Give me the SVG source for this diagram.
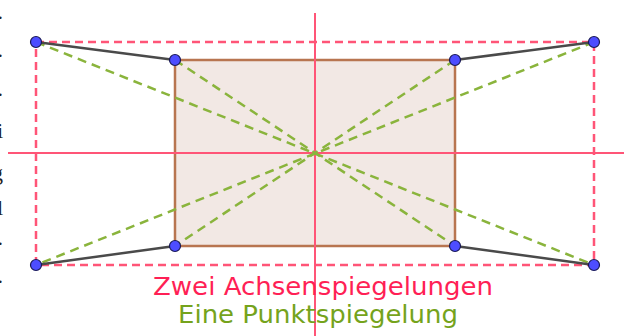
<svg xmlns="http://www.w3.org/2000/svg" width="624" height="336" viewBox="0 0 624 336">
<style>
.ax{stroke:#ff5577;stroke-width:2;fill:none}
.rd{stroke:#ff5577;stroke-width:2.5;stroke-dasharray:8 5;fill:none}
.gd{stroke:#8ab43c;stroke-width:2.5;stroke-dasharray:9 6;fill:none}
.bl{stroke:#4a4a4a;stroke-width:2.5;fill:none}
.pt{fill:#4d4dff;stroke:#1a1a55;stroke-width:1.2}
.cut{font-family:"Liberation Serif",serif;font-size:22px;fill:#222;text-anchor:end}
</style>
<rect width="624" height="336" fill="#fff"/>
<g id="cut-text">
<text class="cut" x="3" y="19">.</text>
<text class="cut" x="3" y="57">.</text>
<text class="cut" x="3" y="96">.</text>
<text class="cut" x="3" y="138">i</text>
<text class="cut" x="3" y="180">g</text>
<text class="cut" x="3" y="215">l</text>
<text class="cut" x="3" y="245">.</text>
<text class="cut" x="3" y="283">.</text>
</g>
<g id="rectangle">
<rect x="175" y="60" width="280" height="186" fill="#f2e8e4" stroke="#b87550" stroke-width="2.5"/>
</g>
<g id="connectors">
<rect class="rd" x="36" y="42" width="558" height="223"/>
<line class="ax" x1="315" y1="13" x2="315" y2="336"/>
<line class="ax" x1="8" y1="153" x2="624" y2="153"/>
<line class="gd" x1="36" y1="42" x2="594" y2="265"/>
<line class="gd" x1="594" y1="42" x2="36" y2="265"/>
<line class="gd" x1="175" y1="60" x2="455" y2="246"/>
<line class="gd" x1="455" y1="60" x2="175" y2="246"/>
<line class="bl" x1="36" y1="42" x2="175" y2="60"/>
<line class="bl" x1="455" y1="60" x2="594" y2="42"/>
<line class="bl" x1="36" y1="265" x2="175" y2="246"/>
<line class="bl" x1="455" y1="246" x2="594" y2="265"/>
</g>
<g id="points">
<circle class="pt" cx="36" cy="42" r="5.5"/>
<circle class="pt" cx="594" cy="42" r="5.5"/>
<circle class="pt" cx="36" cy="265" r="5.5"/>
<circle class="pt" cx="594" cy="265" r="5.5"/>
<circle class="pt" cx="175" cy="60" r="5.5"/>
<circle class="pt" cx="455" cy="60" r="5.5"/>
<circle class="pt" cx="175" cy="246" r="5.5"/>
<circle class="pt" cx="455" cy="246" r="5.5"/>
</g>
<g id="labels" font-family="'DejaVu Sans','Liberation Sans',sans-serif" font-size="24">
<text x="153" y="295" fill="#ff1f55" textLength="340" lengthAdjust="spacingAndGlyphs">Zwei Achsenspiegelungen</text>
<text x="178" y="323" fill="#75a31c" textLength="280" lengthAdjust="spacingAndGlyphs">Eine Punktspiegelung</text>
</g>
</svg>
